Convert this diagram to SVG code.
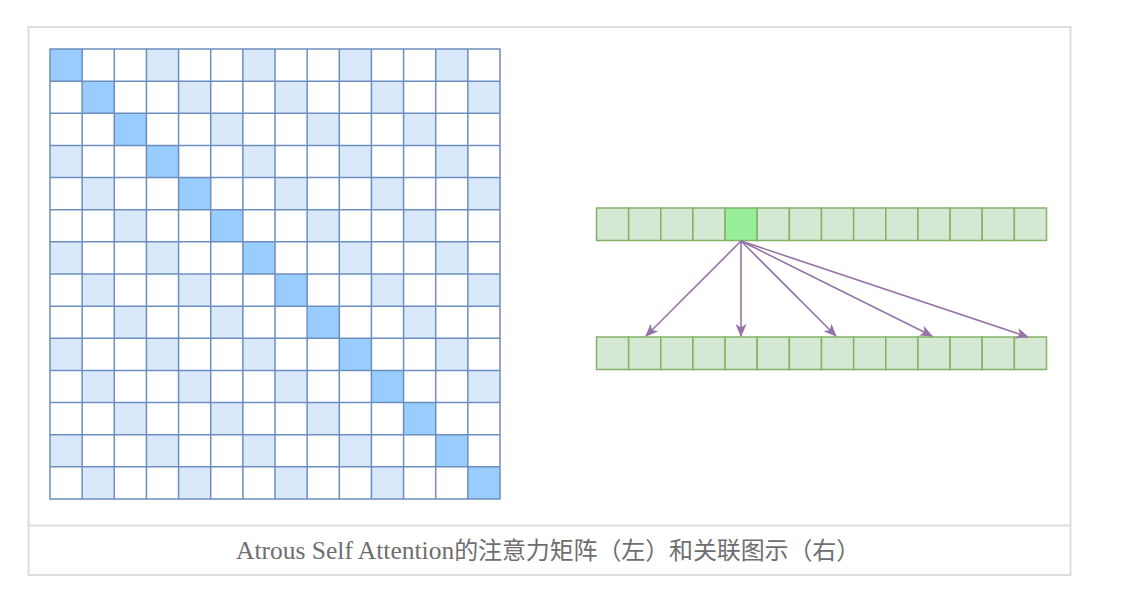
<svg xmlns="http://www.w3.org/2000/svg" width="1148" height="592" viewBox="0 0 1148 592">
<style>
.frame{fill:none;stroke:#dddddd;stroke-width:2}
.dark{fill:#99ccff}
.light{fill:#dae8fc}
.grid{fill:none;stroke:#6c8ebf;stroke-width:1.5}
.g{fill:#d5e8d4;stroke:#82b366;stroke-width:1.5}
.gh{fill:#99ee99;stroke:#82b366;stroke-width:1.5}
.arr{fill:none;stroke:#9673a6;stroke-width:1.6;marker-end:url(#ah)}
.cap{font-family:"Liberation Serif","Noto Sans CJK SC",serif;font-size:24px;fill:#6e6e6e}
</style>
<defs>
<marker id="ah" viewBox="0 0 13 11" refX="12" refY="5.5" markerWidth="13" markerHeight="11" markerUnits="userSpaceOnUse" orient="auto">
<path d="M0,0 L13,5.5 L0,11 L3.5,5.5 z" fill="#9673a6"/>
</marker>
</defs>
<rect x="0" y="0" width="1148" height="592" fill="#ffffff"/>
<g id="frame">
<rect class="frame" x="28.5" y="27" width="1042" height="548"/>
<line class="frame" x1="28.5" y1="525.5" x2="1070.5" y2="525.5"/>
</g>
<g id="matrix">
<g transform="translate(50,49) scale(32.142857)">
<rect x="0" y="0" width="14" height="14" fill="#ffffff"/>
<g class="dark">
<rect x="0" y="0" width="1" height="1"/><rect x="1" y="1" width="1" height="1"/><rect x="2" y="2" width="1" height="1"/><rect x="3" y="3" width="1" height="1"/><rect x="4" y="4" width="1" height="1"/><rect x="5" y="5" width="1" height="1"/><rect x="6" y="6" width="1" height="1"/><rect x="7" y="7" width="1" height="1"/><rect x="8" y="8" width="1" height="1"/><rect x="9" y="9" width="1" height="1"/><rect x="10" y="10" width="1" height="1"/><rect x="11" y="11" width="1" height="1"/><rect x="12" y="12" width="1" height="1"/><rect x="13" y="13" width="1" height="1"/>
</g>
<g class="light">
<rect x="3" y="0" width="1" height="1"/><rect x="6" y="0" width="1" height="1"/><rect x="9" y="0" width="1" height="1"/><rect x="12" y="0" width="1" height="1"/>
<rect x="4" y="1" width="1" height="1"/><rect x="7" y="1" width="1" height="1"/><rect x="10" y="1" width="1" height="1"/><rect x="13" y="1" width="1" height="1"/>
<rect x="5" y="2" width="1" height="1"/><rect x="8" y="2" width="1" height="1"/><rect x="11" y="2" width="1" height="1"/>
<rect x="0" y="3" width="1" height="1"/><rect x="6" y="3" width="1" height="1"/><rect x="9" y="3" width="1" height="1"/><rect x="12" y="3" width="1" height="1"/>
<rect x="1" y="4" width="1" height="1"/><rect x="7" y="4" width="1" height="1"/><rect x="10" y="4" width="1" height="1"/><rect x="13" y="4" width="1" height="1"/>
<rect x="2" y="5" width="1" height="1"/><rect x="8" y="5" width="1" height="1"/><rect x="11" y="5" width="1" height="1"/>
<rect x="0" y="6" width="1" height="1"/><rect x="3" y="6" width="1" height="1"/><rect x="9" y="6" width="1" height="1"/><rect x="12" y="6" width="1" height="1"/>
<rect x="1" y="7" width="1" height="1"/><rect x="4" y="7" width="1" height="1"/><rect x="10" y="7" width="1" height="1"/><rect x="13" y="7" width="1" height="1"/>
<rect x="2" y="8" width="1" height="1"/><rect x="5" y="8" width="1" height="1"/><rect x="11" y="8" width="1" height="1"/>
<rect x="0" y="9" width="1" height="1"/><rect x="3" y="9" width="1" height="1"/><rect x="6" y="9" width="1" height="1"/><rect x="12" y="9" width="1" height="1"/>
<rect x="1" y="10" width="1" height="1"/><rect x="4" y="10" width="1" height="1"/><rect x="7" y="10" width="1" height="1"/><rect x="13" y="10" width="1" height="1"/>
<rect x="2" y="11" width="1" height="1"/><rect x="5" y="11" width="1" height="1"/><rect x="8" y="11" width="1" height="1"/>
<rect x="0" y="12" width="1" height="1"/><rect x="3" y="12" width="1" height="1"/><rect x="6" y="12" width="1" height="1"/><rect x="9" y="12" width="1" height="1"/>
<rect x="1" y="13" width="1" height="1"/><rect x="4" y="13" width="1" height="1"/><rect x="7" y="13" width="1" height="1"/><rect x="10" y="13" width="1" height="1"/>
</g>
<path class="grid" vector-effect="non-scaling-stroke" d="M0,0H14V14H0Z M1,0V14 M2,0V14 M3,0V14 M4,0V14 M5,0V14 M6,0V14 M7,0V14 M8,0V14 M9,0V14 M10,0V14 M11,0V14 M12,0V14 M13,0V14 M0,1H14 M0,2H14 M0,3H14 M0,4H14 M0,5H14 M0,6H14 M0,7H14 M0,8H14 M0,9H14 M0,10H14 M0,11H14 M0,12H14 M0,13H14"/>
</g>
</g>
<g id="seq-top">
<rect class="g" x="596.5" y="208" width="32.14" height="32.5"/>
<rect class="g" x="628.64" y="208" width="32.14" height="32.5"/>
<rect class="g" x="660.79" y="208" width="32.14" height="32.5"/>
<rect class="g" x="692.93" y="208" width="32.14" height="32.5"/>
<rect class="gh" x="725.07" y="208" width="32.14" height="32.5"/>
<rect class="g" x="757.21" y="208" width="32.14" height="32.5"/>
<rect class="g" x="789.36" y="208" width="32.14" height="32.5"/>
<rect class="g" x="821.5" y="208" width="32.14" height="32.5"/>
<rect class="g" x="853.64" y="208" width="32.14" height="32.5"/>
<rect class="g" x="885.79" y="208" width="32.14" height="32.5"/>
<rect class="g" x="917.93" y="208" width="32.14" height="32.5"/>
<rect class="g" x="950.07" y="208" width="32.14" height="32.5"/>
<rect class="g" x="982.21" y="208" width="32.14" height="32.5"/>
<rect class="g" x="1014.36" y="208" width="32.14" height="32.5"/>
</g>
<g id="seq-bottom">
<rect class="g" x="596.5" y="337" width="32.14" height="32.5"/>
<rect class="g" x="628.64" y="337" width="32.14" height="32.5"/>
<rect class="g" x="660.79" y="337" width="32.14" height="32.5"/>
<rect class="g" x="692.93" y="337" width="32.14" height="32.5"/>
<rect class="g" x="725.07" y="337" width="32.14" height="32.5"/>
<rect class="g" x="757.21" y="337" width="32.14" height="32.5"/>
<rect class="g" x="789.36" y="337" width="32.14" height="32.5"/>
<rect class="g" x="821.5" y="337" width="32.14" height="32.5"/>
<rect class="g" x="853.64" y="337" width="32.14" height="32.5"/>
<rect class="g" x="885.79" y="337" width="32.14" height="32.5"/>
<rect class="g" x="917.93" y="337" width="32.14" height="32.5"/>
<rect class="g" x="950.07" y="337" width="32.14" height="32.5"/>
<rect class="g" x="982.21" y="337" width="32.14" height="32.5"/>
<rect class="g" x="1014.36" y="337" width="32.14" height="32.5"/>
</g>
<g id="connectors">
<path class="arr" d="M741,241 L646,336"/>
<path class="arr" d="M741,241 L741,336"/>
<path class="arr" d="M741,241 L836,336"/>
<path class="arr" d="M741,241 L932,336"/>
<path class="arr" d="M741,241 L1028,337"/>
</g>
<g id="caption">
<text class="cap" x="236" y="559"><tspan font-size="25.5">Atrous Self Attention</tspan><tspan textLength="406" lengthAdjust="spacing">的注意力矩阵（左）和关联图示（右）</tspan></text>
</g>
</svg>
